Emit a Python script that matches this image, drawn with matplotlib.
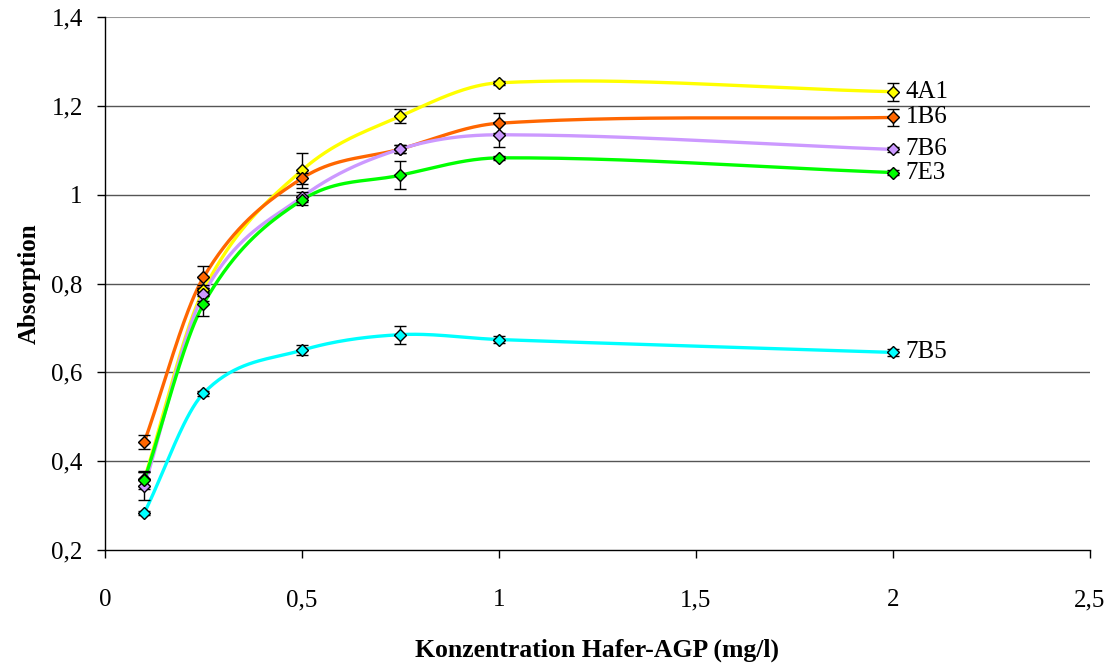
import numpy as np
import matplotlib
matplotlib.use("Agg")
import matplotlib.pyplot as plt

conc = [0.1, 0.25, 0.5, 0.75, 1.0, 2.0]

names = ["4A1", "1B6", "7B6", "7E3", "7B5"]
colors = ["#FFFF00", "#FF6600", "#CC99FF", "#00FF00", "#00FFFF"]

a_4A1 = [0.360, 0.785, 1.055, 1.177, 1.252, 1.232]
a_1B6 = [0.444, 0.814, 1.037, 1.103, 1.161, 1.174]
a_7B6 = [0.344, 0.776, 0.995, 1.103, 1.135, 1.102]
a_7E3 = [0.358, 0.754, 0.988, 1.044, 1.083, 1.050]
a_7B5 = [0.284, 0.553, 0.650, 0.685, 0.674, 0.645]

e_4A1 = [0.015, 0.012, 0.040, 0.015, 0.005, 0.020]
e_1B6 = [0.016, 0.025, 0.012, 0.010, 0.022, 0.020]
e_7B6 = [0.032, 0.015, 0.012, 0.008, 0.028, 0.005]
e_7E3 = [0.020, 0.026, 0.010, 0.032, 0.005, 0.005]
e_7B5 = [0.005, 0.005, 0.011, 0.020, 0.008, 0.008]

series = [a_4A1, a_1B6, a_7B6, a_7E3, a_7B5]
errors = [e_4A1, e_1B6, e_7B6, e_7E3, e_7B5]


def smooth(x, y, n=40):
    # cubic hermite through the points, slopes from neighbours
    x = np.asarray(x, float)
    y = np.asarray(y, float)
    m = np.empty_like(y)
    m[0] = (y[1] - y[0]) / (x[1] - x[0])
    m[-1] = (y[-1] - y[-2]) / (x[-1] - x[-2])
    m[1:-1] = (y[2:] - y[:-2]) / (x[2:] - x[:-2])
    xs, ys = [x[:1]], [y[:1]]
    for i in range(len(x) - 1):
        h = x[i + 1] - x[i]
        t = np.linspace(0, 1, n)[1:]
        h00 = 2 * t**3 - 3 * t**2 + 1
        h10 = t**3 - 2 * t**2 + t
        h01 = -2 * t**3 + 3 * t**2
        h11 = t**3 - t**2
        xs.append(x[i] + t * h)
        ys.append(h00 * y[i] + h10 * h * m[i] + h01 * y[i + 1] + h11 * h * m[i + 1])
    return np.concatenate(xs), np.concatenate(ys)


plt.rcParams['font.family'] = ['Liberation Serif', 'DejaVu Serif']

fig = plt.figure(figsize=(11.11, 6.70), dpi=100)
ax = fig.add_axes([0.0945, 0.179, 0.8865, 0.7955])

for name, col, y, e in zip(names, colors, series, errors):
    sx, sy = smooth(conc, y)
    ax.plot(sx, sy, color=col, lw=2.4, zorder=3)
    ax.errorbar(conc, y, yerr=e, fmt='none', ecolor='black', elinewidth=1,
                capsize=4, capthick=1, zorder=4)
    ax.plot(conc, y, ls='none', marker='D', ms=6.5, mfc=col, mec='black',
            mew=1, zorder=5)
    ax.annotate(name, (conc[-1], y[-1]), xytext=(9, 0), textcoords='offset points',
                va='center', ha='left', fontsize=18)

ax.set_xlim(0, 2.5)
ax.set_ylim(0.2, 1.4)
ax.set_xticks([0, 0.5, 1, 1.5, 2, 2.5])
ax.set_xticklabels(["0", "0,5", "1", "1,5", "2", "2,5"])
ax.set_yticks([0.2, 0.4, 0.6, 0.8, 1.0, 1.2, 1.4])
ax.set_yticklabels(["0,2", "0,4", "0,6", "0,8", "1", "1,2", "1,4"])
ax.tick_params(axis='both', labelsize=18, direction='out', length=6, width=1)
ax.tick_params(axis='x', pad=22)
ax.tick_params(axis='y', pad=10)

for v in [0.4, 0.6, 0.8, 1.0, 1.2]:
    ax.axhline(v, color='#555555', lw=1, zorder=1)
ax.axhline(1.4, color='#999999', lw=1.5, zorder=1)

ax.spines['top'].set_visible(False)
ax.spines['right'].set_visible(False)
ax.spines['left'].set_linewidth(1)
ax.spines['bottom'].set_linewidth(1)

ax.set_xlabel("Konzentration Hafer-AGP (mg/l)", fontsize=18.5, fontweight='bold', labelpad=20)
ax.set_ylabel("Absorption", fontsize=18, fontweight='bold', labelpad=8)

fig.savefig("out.png", dpi=100)
